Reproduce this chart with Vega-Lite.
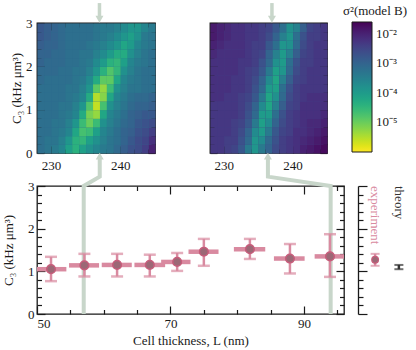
{
"$schema":"https://vega.github.io/schema/vega-lite/v6.json",
"padding":0,
"config":{"font":"Liberation Serif","view":{"stroke":"#1a1a1a","strokeWidth":1.3},
"axis":{"domain":false,"grid":false,"labelFont":"Liberation Serif","labelFontSize":13,"labelColor":"#1a1a1a","tickColor":"#1a1a1a","tickWidth":1.2,"titleFont":"Liberation Serif","titleFontSize":13,"titleFontWeight":"normal","titleColor":"#1a1a1a","minExtent":0}},
"datasets":{
"A":[
{"d":228.5,"c":0.1,"v":-3.2},{"d":228.5,"c":0.3,"v":-3.2},{"d":228.5,"c":0.5,"v":-3.2},{"d":228.5,"c":0.7,"v":-3.2},{"d":228.5,"c":0.9,"v":-3.2},{"d":228.5,"c":1.1,"v":-3.2},{"d":228.5,"c":1.3,"v":-3.2},{"d":228.5,"c":1.5,"v":-3.2},{"d":228.5,"c":1.7,"v":-3.1},{"d":228.5,"c":1.9,"v":-3.1},{"d":228.5,"c":2.1,"v":-3.0},{"d":228.5,"c":2.3,"v":-3.0},{"d":228.5,"c":2.5,"v":-2.9},{"d":228.5,"c":2.7,"v":-2.8},{"d":228.5,"c":2.9,"v":-2.8},
{"d":229.5,"c":0.1,"v":-3.3},{"d":229.5,"c":0.3,"v":-3.3},{"d":229.5,"c":0.5,"v":-3.2},{"d":229.5,"c":0.7,"v":-3.2},{"d":229.5,"c":0.9,"v":-3.2},{"d":229.5,"c":1.1,"v":-3.2},{"d":229.5,"c":1.3,"v":-3.2},{"d":229.5,"c":1.5,"v":-3.2},{"d":229.5,"c":1.7,"v":-3.2},{"d":229.5,"c":1.9,"v":-3.1},{"d":229.5,"c":2.1,"v":-3.1},{"d":229.5,"c":2.3,"v":-3.0},{"d":229.5,"c":2.5,"v":-3.0},{"d":229.5,"c":2.7,"v":-2.9},{"d":229.5,"c":2.9,"v":-2.9},
{"d":230.5,"c":0.1,"v":-3.4},{"d":230.5,"c":0.3,"v":-3.3},{"d":230.5,"c":0.5,"v":-3.3},{"d":230.5,"c":0.7,"v":-3.3},{"d":230.5,"c":0.9,"v":-3.2},{"d":230.5,"c":1.1,"v":-3.2},{"d":230.5,"c":1.3,"v":-3.2},{"d":230.5,"c":1.5,"v":-3.2},{"d":230.5,"c":1.7,"v":-3.2},{"d":230.5,"c":1.9,"v":-3.1},{"d":230.5,"c":2.1,"v":-3.1},{"d":230.5,"c":2.3,"v":-3.1},{"d":230.5,"c":2.5,"v":-3.0},{"d":230.5,"c":2.7,"v":-3.0},{"d":230.5,"c":2.9,"v":-3.0},
{"d":231.5,"c":0.1,"v":-3.6},{"d":231.5,"c":0.3,"v":-3.5},{"d":231.5,"c":0.5,"v":-3.4},{"d":231.5,"c":0.7,"v":-3.3},{"d":231.5,"c":0.9,"v":-3.3},{"d":231.5,"c":1.1,"v":-3.3},{"d":231.5,"c":1.3,"v":-3.2},{"d":231.5,"c":1.5,"v":-3.2},{"d":231.5,"c":1.7,"v":-3.2},{"d":231.5,"c":1.9,"v":-3.2},{"d":231.5,"c":2.1,"v":-3.1},{"d":231.5,"c":2.3,"v":-3.1},{"d":231.5,"c":2.5,"v":-3.1},{"d":231.5,"c":2.7,"v":-3.1},{"d":231.5,"c":2.9,"v":-3.1},
{"d":232.5,"c":0.1,"v":-4.1},{"d":232.5,"c":0.3,"v":-3.9},{"d":232.5,"c":0.5,"v":-3.6},{"d":232.5,"c":0.7,"v":-3.5},{"d":232.5,"c":0.9,"v":-3.4},{"d":232.5,"c":1.1,"v":-3.3},{"d":232.5,"c":1.3,"v":-3.3},{"d":232.5,"c":1.5,"v":-3.3},{"d":232.5,"c":1.7,"v":-3.2},{"d":232.5,"c":1.9,"v":-3.2},{"d":232.5,"c":2.1,"v":-3.2},{"d":232.5,"c":2.3,"v":-3.2},{"d":232.5,"c":2.5,"v":-3.2},{"d":232.5,"c":2.7,"v":-3.2},{"d":232.5,"c":2.9,"v":-3.2},
{"d":233.5,"c":0.1,"v":-4.4},{"d":233.5,"c":0.3,"v":-4.4},{"d":233.5,"c":0.5,"v":-4.2},{"d":233.5,"c":0.7,"v":-3.9},{"d":233.5,"c":0.9,"v":-3.6},{"d":233.5,"c":1.1,"v":-3.5},{"d":233.5,"c":1.3,"v":-3.4},{"d":233.5,"c":1.5,"v":-3.3},{"d":233.5,"c":1.7,"v":-3.3},{"d":233.5,"c":1.9,"v":-3.3},{"d":233.5,"c":2.1,"v":-3.2},{"d":233.5,"c":2.3,"v":-3.2},{"d":233.5,"c":2.5,"v":-3.2},{"d":233.5,"c":2.7,"v":-3.2},{"d":233.5,"c":2.9,"v":-3.2},
{"d":234.5,"c":0.1,"v":-4.1},{"d":234.5,"c":0.3,"v":-4.5},{"d":234.5,"c":0.5,"v":-4.7},{"d":234.5,"c":0.7,"v":-4.6},{"d":234.5,"c":0.9,"v":-4.3},{"d":234.5,"c":1.1,"v":-3.9},{"d":234.5,"c":1.3,"v":-3.6},{"d":234.5,"c":1.5,"v":-3.5},{"d":234.5,"c":1.7,"v":-3.4},{"d":234.5,"c":1.9,"v":-3.3},{"d":234.5,"c":2.1,"v":-3.3},{"d":234.5,"c":2.3,"v":-3.3},{"d":234.5,"c":2.5,"v":-3.2},{"d":234.5,"c":2.7,"v":-3.2},{"d":234.5,"c":2.9,"v":-3.2},
{"d":235.5,"c":0.1,"v":-3.8},{"d":235.5,"c":0.3,"v":-4.1},{"d":235.5,"c":0.5,"v":-4.6},{"d":235.5,"c":0.7,"v":-5.0},{"d":235.5,"c":0.9,"v":-5.1},{"d":235.5,"c":1.1,"v":-4.8},{"d":235.5,"c":1.3,"v":-4.3},{"d":235.5,"c":1.5,"v":-3.9},{"d":235.5,"c":1.7,"v":-3.7},{"d":235.5,"c":1.9,"v":-3.5},{"d":235.5,"c":2.1,"v":-3.4},{"d":235.5,"c":2.3,"v":-3.3},{"d":235.5,"c":2.5,"v":-3.3},{"d":235.5,"c":2.7,"v":-3.2},{"d":235.5,"c":2.9,"v":-3.2},
{"d":236.5,"c":0.1,"v":-3.6},{"d":236.5,"c":0.3,"v":-3.8},{"d":236.5,"c":0.5,"v":-4.1},{"d":236.5,"c":0.7,"v":-4.6},{"d":236.5,"c":0.9,"v":-5.3},{"d":236.5,"c":1.1,"v":-5.6},{"d":236.5,"c":1.3,"v":-5.5},{"d":236.5,"c":1.5,"v":-4.9},{"d":236.5,"c":1.7,"v":-4.3},{"d":236.5,"c":1.9,"v":-3.9},{"d":236.5,"c":2.1,"v":-3.7},{"d":236.5,"c":2.3,"v":-3.5},{"d":236.5,"c":2.5,"v":-3.4},{"d":236.5,"c":2.7,"v":-3.3},{"d":236.5,"c":2.9,"v":-3.3},
{"d":237.5,"c":0.1,"v":-3.4},{"d":237.5,"c":0.3,"v":-3.5},{"d":237.5,"c":0.5,"v":-3.6},{"d":237.5,"c":0.7,"v":-3.8},{"d":237.5,"c":0.9,"v":-4.2},{"d":237.5,"c":1.1,"v":-4.7},{"d":237.5,"c":1.3,"v":-5.2},{"d":237.5,"c":1.5,"v":-5.3},{"d":237.5,"c":1.7,"v":-4.9},{"d":237.5,"c":1.9,"v":-4.4},{"d":237.5,"c":2.1,"v":-4.0},{"d":237.5,"c":2.3,"v":-3.7},{"d":237.5,"c":2.5,"v":-3.5},{"d":237.5,"c":2.7,"v":-3.4},{"d":237.5,"c":2.9,"v":-3.4},
{"d":238.5,"c":0.1,"v":-3.3},{"d":238.5,"c":0.3,"v":-3.3},{"d":238.5,"c":0.5,"v":-3.4},{"d":238.5,"c":0.7,"v":-3.5},{"d":238.5,"c":0.9,"v":-3.6},{"d":238.5,"c":1.1,"v":-3.8},{"d":238.5,"c":1.3,"v":-4.2},{"d":238.5,"c":1.5,"v":-4.6},{"d":238.5,"c":1.7,"v":-4.9},{"d":238.5,"c":1.9,"v":-4.8},{"d":238.5,"c":2.1,"v":-4.4},{"d":238.5,"c":2.3,"v":-4.0},{"d":238.5,"c":2.5,"v":-3.7},{"d":238.5,"c":2.7,"v":-3.5},{"d":238.5,"c":2.9,"v":-3.4},
{"d":239.5,"c":0.1,"v":-3.1},{"d":239.5,"c":0.3,"v":-3.2},{"d":239.5,"c":0.5,"v":-3.2},{"d":239.5,"c":0.7,"v":-3.3},{"d":239.5,"c":0.9,"v":-3.4},{"d":239.5,"c":1.1,"v":-3.5},{"d":239.5,"c":1.3,"v":-3.6},{"d":239.5,"c":1.5,"v":-3.8},{"d":239.5,"c":1.7,"v":-4.2},{"d":239.5,"c":1.9,"v":-4.5},{"d":239.5,"c":2.1,"v":-4.5},{"d":239.5,"c":2.3,"v":-4.3},{"d":239.5,"c":2.5,"v":-3.9},{"d":239.5,"c":2.7,"v":-3.7},{"d":239.5,"c":2.9,"v":-3.5},
{"d":240.5,"c":0.1,"v":-2.9},{"d":240.5,"c":0.3,"v":-3.0},{"d":240.5,"c":0.5,"v":-3.0},{"d":240.5,"c":0.7,"v":-3.1},{"d":240.5,"c":0.9,"v":-3.2},{"d":240.5,"c":1.1,"v":-3.3},{"d":240.5,"c":1.3,"v":-3.4},{"d":240.5,"c":1.5,"v":-3.5},{"d":240.5,"c":1.7,"v":-3.6},{"d":240.5,"c":1.9,"v":-3.8},{"d":240.5,"c":2.1,"v":-4.1},{"d":240.5,"c":2.3,"v":-4.3},{"d":240.5,"c":2.5,"v":-4.2},{"d":240.5,"c":2.7,"v":-3.9},{"d":240.5,"c":2.9,"v":-3.7},
{"d":241.5,"c":0.1,"v":-2.7},{"d":241.5,"c":0.3,"v":-2.8},{"d":241.5,"c":0.5,"v":-2.9},{"d":241.5,"c":0.7,"v":-3.0},{"d":241.5,"c":0.9,"v":-3.0},{"d":241.5,"c":1.1,"v":-3.1},{"d":241.5,"c":1.3,"v":-3.2},{"d":241.5,"c":1.5,"v":-3.3},{"d":241.5,"c":1.7,"v":-3.4},{"d":241.5,"c":1.9,"v":-3.5},{"d":241.5,"c":2.1,"v":-3.6},{"d":241.5,"c":2.3,"v":-3.8},{"d":241.5,"c":2.5,"v":-4.0},{"d":241.5,"c":2.7,"v":-4.1},{"d":241.5,"c":2.9,"v":-3.9},
{"d":242.5,"c":0.1,"v":-2.6},{"d":242.5,"c":0.3,"v":-2.6},{"d":242.5,"c":0.5,"v":-2.7},{"d":242.5,"c":0.7,"v":-2.8},{"d":242.5,"c":0.9,"v":-2.9},{"d":242.5,"c":1.1,"v":-3.0},{"d":242.5,"c":1.3,"v":-3.1},{"d":242.5,"c":1.5,"v":-3.3},{"d":242.5,"c":1.7,"v":-3.3},{"d":242.5,"c":1.9,"v":-3.3},{"d":242.5,"c":2.1,"v":-3.4},{"d":242.5,"c":2.3,"v":-3.5},{"d":242.5,"c":2.5,"v":-3.6},{"d":242.5,"c":2.7,"v":-3.8},{"d":242.5,"c":2.9,"v":-3.9},
{"d":243.5,"c":0.1,"v":-2.4},{"d":243.5,"c":0.3,"v":-2.5},{"d":243.5,"c":0.5,"v":-2.6},{"d":243.5,"c":0.7,"v":-2.7},{"d":243.5,"c":0.9,"v":-2.8},{"d":243.5,"c":1.1,"v":-3.0},{"d":243.5,"c":1.3,"v":-3.1},{"d":243.5,"c":1.5,"v":-3.2},{"d":243.5,"c":1.7,"v":-3.2},{"d":243.5,"c":1.9,"v":-3.2},{"d":243.5,"c":2.1,"v":-3.3},{"d":243.5,"c":2.3,"v":-3.3},{"d":243.5,"c":2.5,"v":-3.4},{"d":243.5,"c":2.7,"v":-3.4},{"d":243.5,"c":2.9,"v":-3.6},
{"d":244.5,"c":0.1,"v":-2.0},{"d":244.5,"c":0.3,"v":-2.2},{"d":244.5,"c":0.5,"v":-2.4},{"d":244.5,"c":0.7,"v":-2.6},{"d":244.5,"c":0.9,"v":-2.8},{"d":244.5,"c":1.1,"v":-2.9},{"d":244.5,"c":1.3,"v":-3.0},{"d":244.5,"c":1.5,"v":-3.2},{"d":244.5,"c":1.7,"v":-3.2},{"d":244.5,"c":1.9,"v":-3.2},{"d":244.5,"c":2.1,"v":-3.2},{"d":244.5,"c":2.3,"v":-3.2},{"d":244.5,"c":2.5,"v":-3.3},{"d":244.5,"c":2.7,"v":-3.3},{"d":244.5,"c":2.9,"v":-3.4}
],
"B":[
{"d":228.5,"c":0.1,"v":-2.3},{"d":228.5,"c":0.3,"v":-2.3},{"d":228.5,"c":0.5,"v":-2.3},{"d":228.5,"c":0.7,"v":-2.3},{"d":228.5,"c":0.9,"v":-2.3},{"d":228.5,"c":1.1,"v":-2.3},{"d":228.5,"c":1.3,"v":-2.2},{"d":228.5,"c":1.5,"v":-2.2},{"d":228.5,"c":1.7,"v":-2.2},{"d":228.5,"c":1.9,"v":-2.2},{"d":228.5,"c":2.1,"v":-2.2},{"d":228.5,"c":2.3,"v":-2.1},{"d":228.5,"c":2.5,"v":-2.0},{"d":228.5,"c":2.7,"v":-1.9},{"d":228.5,"c":2.9,"v":-1.9},
{"d":229.5,"c":0.1,"v":-2.3},{"d":229.5,"c":0.3,"v":-2.3},{"d":229.5,"c":0.5,"v":-2.3},{"d":229.5,"c":0.7,"v":-2.3},{"d":229.5,"c":0.9,"v":-2.3},{"d":229.5,"c":1.1,"v":-2.3},{"d":229.5,"c":1.3,"v":-2.2},{"d":229.5,"c":1.5,"v":-2.2},{"d":229.5,"c":1.7,"v":-2.2},{"d":229.5,"c":1.9,"v":-2.2},{"d":229.5,"c":2.1,"v":-2.2},{"d":229.5,"c":2.3,"v":-2.2},{"d":229.5,"c":2.5,"v":-2.1},{"d":229.5,"c":2.7,"v":-2.0},{"d":229.5,"c":2.9,"v":-2.0},
{"d":230.5,"c":0.1,"v":-2.4},{"d":230.5,"c":0.3,"v":-2.4},{"d":230.5,"c":0.5,"v":-2.3},{"d":230.5,"c":0.7,"v":-2.3},{"d":230.5,"c":0.9,"v":-2.3},{"d":230.5,"c":1.1,"v":-2.3},{"d":230.5,"c":1.3,"v":-2.3},{"d":230.5,"c":1.5,"v":-2.2},{"d":230.5,"c":1.7,"v":-2.2},{"d":230.5,"c":1.9,"v":-2.2},{"d":230.5,"c":2.1,"v":-2.2},{"d":230.5,"c":2.3,"v":-2.2},{"d":230.5,"c":2.5,"v":-2.2},{"d":230.5,"c":2.7,"v":-2.1},{"d":230.5,"c":2.9,"v":-2.1},
{"d":231.5,"c":0.1,"v":-2.5},{"d":231.5,"c":0.3,"v":-2.4},{"d":231.5,"c":0.5,"v":-2.4},{"d":231.5,"c":0.7,"v":-2.4},{"d":231.5,"c":0.9,"v":-2.3},{"d":231.5,"c":1.1,"v":-2.3},{"d":231.5,"c":1.3,"v":-2.3},{"d":231.5,"c":1.5,"v":-2.3},{"d":231.5,"c":1.7,"v":-2.3},{"d":231.5,"c":1.9,"v":-2.2},{"d":231.5,"c":2.1,"v":-2.2},{"d":231.5,"c":2.3,"v":-2.2},{"d":231.5,"c":2.5,"v":-2.2},{"d":231.5,"c":2.7,"v":-2.2},{"d":231.5,"c":2.9,"v":-2.2},
{"d":232.5,"c":0.1,"v":-2.8},{"d":232.5,"c":0.3,"v":-2.7},{"d":232.5,"c":0.5,"v":-2.6},{"d":232.5,"c":0.7,"v":-2.5},{"d":232.5,"c":0.9,"v":-2.4},{"d":232.5,"c":1.1,"v":-2.4},{"d":232.5,"c":1.3,"v":-2.4},{"d":232.5,"c":1.5,"v":-2.3},{"d":232.5,"c":1.7,"v":-2.3},{"d":232.5,"c":1.9,"v":-2.3},{"d":232.5,"c":2.1,"v":-2.3},{"d":232.5,"c":2.3,"v":-2.2},{"d":232.5,"c":2.5,"v":-2.2},{"d":232.5,"c":2.7,"v":-2.2},{"d":232.5,"c":2.9,"v":-2.2},
{"d":233.5,"c":0.1,"v":-3.4},{"d":233.5,"c":0.3,"v":-3.1},{"d":233.5,"c":0.5,"v":-3.0},{"d":233.5,"c":0.7,"v":-2.8},{"d":233.5,"c":0.9,"v":-2.7},{"d":233.5,"c":1.1,"v":-2.6},{"d":233.5,"c":1.3,"v":-2.5},{"d":233.5,"c":1.5,"v":-2.4},{"d":233.5,"c":1.7,"v":-2.4},{"d":233.5,"c":1.9,"v":-2.4},{"d":233.5,"c":2.1,"v":-2.3},{"d":233.5,"c":2.3,"v":-2.3},{"d":233.5,"c":2.5,"v":-2.3},{"d":233.5,"c":2.7,"v":-2.3},{"d":233.5,"c":2.9,"v":-2.3},
{"d":234.5,"c":0.1,"v":-3.9},{"d":234.5,"c":0.3,"v":-3.9},{"d":234.5,"c":0.5,"v":-3.7},{"d":234.5,"c":0.7,"v":-3.4},{"d":234.5,"c":0.9,"v":-3.1},{"d":234.5,"c":1.1,"v":-3.0},{"d":234.5,"c":1.3,"v":-2.8},{"d":234.5,"c":1.5,"v":-2.7},{"d":234.5,"c":1.7,"v":-2.6},{"d":234.5,"c":1.9,"v":-2.5},{"d":234.5,"c":2.1,"v":-2.4},{"d":234.5,"c":2.3,"v":-2.4},{"d":234.5,"c":2.5,"v":-2.4},{"d":234.5,"c":2.7,"v":-2.3},{"d":234.5,"c":2.9,"v":-2.3},
{"d":235.5,"c":0.1,"v":-3.4},{"d":235.5,"c":0.3,"v":-3.7},{"d":235.5,"c":0.5,"v":-4.0},{"d":235.5,"c":0.7,"v":-4.1},{"d":235.5,"c":0.9,"v":-4.0},{"d":235.5,"c":1.1,"v":-3.7},{"d":235.5,"c":1.3,"v":-3.4},{"d":235.5,"c":1.5,"v":-3.1},{"d":235.5,"c":1.7,"v":-3.0},{"d":235.5,"c":1.9,"v":-2.8},{"d":235.5,"c":2.1,"v":-2.7},{"d":235.5,"c":2.3,"v":-2.5},{"d":235.5,"c":2.5,"v":-2.4},{"d":235.5,"c":2.7,"v":-2.4},{"d":235.5,"c":2.9,"v":-2.4},
{"d":236.5,"c":0.1,"v":-3.0},{"d":236.5,"c":0.3,"v":-3.1},{"d":236.5,"c":0.5,"v":-3.4},{"d":236.5,"c":0.7,"v":-3.7},{"d":236.5,"c":0.9,"v":-4.0},{"d":236.5,"c":1.1,"v":-4.2},{"d":236.5,"c":1.3,"v":-4.2},{"d":236.5,"c":1.5,"v":-4.0},{"d":236.5,"c":1.7,"v":-3.7},{"d":236.5,"c":1.9,"v":-3.4},{"d":236.5,"c":2.1,"v":-3.1},{"d":236.5,"c":2.3,"v":-3.0},{"d":236.5,"c":2.5,"v":-2.8},{"d":236.5,"c":2.7,"v":-2.6},{"d":236.5,"c":2.9,"v":-2.5},
{"d":237.5,"c":0.1,"v":-2.6},{"d":237.5,"c":0.3,"v":-2.7},{"d":237.5,"c":0.5,"v":-2.8},{"d":237.5,"c":0.7,"v":-3.0},{"d":237.5,"c":0.9,"v":-3.2},{"d":237.5,"c":1.1,"v":-3.5},{"d":237.5,"c":1.3,"v":-3.8},{"d":237.5,"c":1.5,"v":-4.1},{"d":237.5,"c":1.7,"v":-4.2},{"d":237.5,"c":1.9,"v":-4.1},{"d":237.5,"c":2.1,"v":-3.8},{"d":237.5,"c":2.3,"v":-3.5},{"d":237.5,"c":2.5,"v":-3.2},{"d":237.5,"c":2.7,"v":-3.0},{"d":237.5,"c":2.9,"v":-2.8},
{"d":238.5,"c":0.1,"v":-2.4},{"d":238.5,"c":0.3,"v":-2.4},{"d":238.5,"c":0.5,"v":-2.5},{"d":238.5,"c":0.7,"v":-2.6},{"d":238.5,"c":0.9,"v":-2.7},{"d":238.5,"c":1.1,"v":-2.9},{"d":238.5,"c":1.3,"v":-3.1},{"d":238.5,"c":1.5,"v":-3.2},{"d":238.5,"c":1.7,"v":-3.5},{"d":238.5,"c":1.9,"v":-3.9},{"d":238.5,"c":2.1,"v":-4.0},{"d":238.5,"c":2.3,"v":-4.0},{"d":238.5,"c":2.5,"v":-3.9},{"d":238.5,"c":2.7,"v":-3.5},{"d":238.5,"c":2.9,"v":-3.2},
{"d":239.5,"c":0.1,"v":-2.3},{"d":239.5,"c":0.3,"v":-2.3},{"d":239.5,"c":0.5,"v":-2.4},{"d":239.5,"c":0.7,"v":-2.4},{"d":239.5,"c":0.9,"v":-2.4},{"d":239.5,"c":1.1,"v":-2.5},{"d":239.5,"c":1.3,"v":-2.6},{"d":239.5,"c":1.5,"v":-2.7},{"d":239.5,"c":1.7,"v":-2.9},{"d":239.5,"c":1.9,"v":-3.1},{"d":239.5,"c":2.1,"v":-3.2},{"d":239.5,"c":2.3,"v":-3.5},{"d":239.5,"c":2.5,"v":-3.8},{"d":239.5,"c":2.7,"v":-3.9},{"d":239.5,"c":2.9,"v":-3.8},
{"d":240.5,"c":0.1,"v":-2.2},{"d":240.5,"c":0.3,"v":-2.2},{"d":240.5,"c":0.5,"v":-2.2},{"d":240.5,"c":0.7,"v":-2.3},{"d":240.5,"c":0.9,"v":-2.3},{"d":240.5,"c":1.1,"v":-2.4},{"d":240.5,"c":1.3,"v":-2.4},{"d":240.5,"c":1.5,"v":-2.4},{"d":240.5,"c":1.7,"v":-2.5},{"d":240.5,"c":1.9,"v":-2.6},{"d":240.5,"c":2.1,"v":-2.7},{"d":240.5,"c":2.3,"v":-2.9},{"d":240.5,"c":2.5,"v":-3.1},{"d":240.5,"c":2.7,"v":-3.2},{"d":240.5,"c":2.9,"v":-3.5},
{"d":241.5,"c":0.1,"v":-2.0},{"d":241.5,"c":0.3,"v":-2.1},{"d":241.5,"c":0.5,"v":-2.2},{"d":241.5,"c":0.7,"v":-2.2},{"d":241.5,"c":0.9,"v":-2.2},{"d":241.5,"c":1.1,"v":-2.2},{"d":241.5,"c":1.3,"v":-2.3},{"d":241.5,"c":1.5,"v":-2.3},{"d":241.5,"c":1.7,"v":-2.4},{"d":241.5,"c":1.9,"v":-2.4},{"d":241.5,"c":2.1,"v":-2.4},{"d":241.5,"c":2.3,"v":-2.5},{"d":241.5,"c":2.5,"v":-2.6},{"d":241.5,"c":2.7,"v":-2.7},{"d":241.5,"c":2.9,"v":-2.9},
{"d":242.5,"c":0.1,"v":-1.9},{"d":242.5,"c":0.3,"v":-2.0},{"d":242.5,"c":0.5,"v":-2.1},{"d":242.5,"c":0.7,"v":-2.1},{"d":242.5,"c":0.9,"v":-2.2},{"d":242.5,"c":1.1,"v":-2.2},{"d":242.5,"c":1.3,"v":-2.2},{"d":242.5,"c":1.5,"v":-2.3},{"d":242.5,"c":1.7,"v":-2.3},{"d":242.5,"c":1.9,"v":-2.3},{"d":242.5,"c":2.1,"v":-2.4},{"d":242.5,"c":2.3,"v":-2.4},{"d":242.5,"c":2.5,"v":-2.4},{"d":242.5,"c":2.7,"v":-2.4},{"d":242.5,"c":2.9,"v":-2.5},
{"d":243.5,"c":0.1,"v":-1.8},{"d":243.5,"c":0.3,"v":-1.9},{"d":243.5,"c":0.5,"v":-2.0},{"d":243.5,"c":0.7,"v":-2.1},{"d":243.5,"c":0.9,"v":-2.2},{"d":243.5,"c":1.1,"v":-2.2},{"d":243.5,"c":1.3,"v":-2.2},{"d":243.5,"c":1.5,"v":-2.3},{"d":243.5,"c":1.7,"v":-2.3},{"d":243.5,"c":1.9,"v":-2.3},{"d":243.5,"c":2.1,"v":-2.3},{"d":243.5,"c":2.3,"v":-2.3},{"d":243.5,"c":2.5,"v":-2.3},{"d":243.5,"c":2.7,"v":-2.4},{"d":243.5,"c":2.9,"v":-2.4},
{"d":244.5,"c":0.1,"v":-1.7},{"d":244.5,"c":0.3,"v":-1.8},{"d":244.5,"c":0.5,"v":-1.9},{"d":244.5,"c":0.7,"v":-2.0},{"d":244.5,"c":0.9,"v":-2.1},{"d":244.5,"c":1.1,"v":-2.2},{"d":244.5,"c":1.3,"v":-2.2},{"d":244.5,"c":1.5,"v":-2.3},{"d":244.5,"c":1.7,"v":-2.3},{"d":244.5,"c":1.9,"v":-2.3},{"d":244.5,"c":2.1,"v":-2.3},{"d":244.5,"c":2.3,"v":-2.3},{"d":244.5,"c":2.5,"v":-2.3},{"d":244.5,"c":2.7,"v":-2.3},{"d":244.5,"c":2.9,"v":-2.3}
],
"arrT":[{"d":237,"c":3.46,"c2":3.15,"h":3.085}],
"pts":[
{"L":52.1,"C":1.05,"Cl":0.77,"Ch":1.34,"Ll":50.0,"Lh":54.4},
{"L":57.1,"C":1.14,"Cl":0.88,"Ch":1.41,"Ll":54.8,"Lh":59.3},
{"L":62.0,"C":1.15,"Cl":0.88,"Ch":1.41,"Ll":59.7,"Lh":64.2},
{"L":66.9,"C":1.15,"Cl":0.88,"Ch":1.39,"Ll":64.6,"Lh":69.2},
{"L":71.0,"C":1.22,"Cl":1.01,"Ch":1.43,"Ll":68.6,"Lh":73.0},
{"L":75.0,"C":1.46,"Cl":1.13,"Ch":1.76,"Ll":72.7,"Lh":77.2},
{"L":81.9,"C":1.52,"Cl":1.29,"Ch":1.76,"Ll":79.5,"Lh":84.2},
{"L":87.9,"C":1.30,"Cl":0.95,"Ch":1.64,"Ll":85.5,"Lh":90.1},
{"L":93.9,"C":1.35,"Cl":0.87,"Ch":1.87,"Ll":91.6,"Lh":96.0}
],
"conn":[
{"g":1,"o":1,"L":59.4,"C":3.64},{"g":1,"o":2,"L":59.4,"C":3.22},{"g":1,"o":3,"L":57,"C":3.0},{"g":1,"o":4,"L":57,"C":0},
{"g":2,"o":1,"L":84.6,"C":3.64},{"g":2,"o":2,"L":84.6,"C":3.22},{"g":2,"o":3,"L":94,"C":3.0},{"g":2,"o":4,"L":94,"C":0}
],
"heads":[{"L":59.4,"C":3.7},{"L":84.6,"C":3.7}],
"side":[{"k":"experiment","C":1.27,"Cl":1.13,"Ch":1.41},{"k":"theory","C":1.10,"Cl":1.05,"Ch":1.15}],
"sideT":[{"k":"experiment","C":3},{"k":"theory","C":3}]
},
"columns":1,
"spacing":-23,
"align":"none",
"concat":[
{"hconcat":[
{"width":118,"height":130,"view":{"fill":"#2f6b8e"},
"layer":[
{"data":{"name":"A"},"mark":{"type":"rect","binSpacing":0},
"encoding":{
"x":{"field":"d","type":"quantitative","bin":{"step":1,"extent":[228,245]},"scale":{"domain":[228,245]},"axis":{"orient":"bottom","values":[230,240],"format":"d","ticks":false,"labelPadding":6,"title":null}},
"y":{"field":"c","type":"quantitative","bin":{"step":0.2,"extent":[0,3]},"scale":{"domain":[0,3]},"axis":{"orient":"left","values":[0,1,2,3],"format":"d","ticks":false,"labelPadding":5,"title":"C₃ (kHz μm³)","titleX":-14,"minExtent":36,"maxExtent":36}},
"color":{"field":"v","type":"quantitative","scale":{"scheme":"viridis","reverse":true,"domain":[-6,-1.6]},"legend":null}
}},
{"data":{"name":"arrT"},"mark":{"type":"rule","color":"#c8d6ca","strokeWidth":3.5,"clip":false},
"encoding":{
"x":{"field":"d","type":"quantitative","scale":{"domain":[228,245]},"axis":{"orient":"bottom","values":[230,240],"tickSize":-7,"labels":false,"title":null}},
"y":{"field":"c","type":"quantitative","scale":{"domain":[0,3]},"axis":{"orient":"left","values":[0,1,2,3],"tickSize":-7,"labels":false,"title":null}},
"y2":{"field":"c2"}}},
{"data":{"name":"arrT"},"mark":{"type":"point","shape":"triangle-down","filled":true,"color":"#c8d6ca","size":64,"opacity":1,"clip":false},
"encoding":{
"x":{"field":"d","type":"quantitative","scale":{"domain":[228,245]},"axis":{"orient":"bottom","values":[232,234,236,238,242,244],"tickSize":-4,"labels":false,"title":null}},
"y":{"field":"h","type":"quantitative","scale":{"domain":[0,3]},"axis":{"orient":"left","values":[0.2,0.4,0.6,0.8,1.2,1.4,1.6,1.8,2.2,2.4,2.6,2.8],"tickSize":-4,"labels":false,"title":null}}}},
{"data":{"name":"arrT"},"mark":{"type":"point","opacity":0,"clip":false},
"encoding":{
"x":{"field":"d","type":"quantitative","scale":{"domain":[228,245]},"axis":{"orient":"top","values":[230,240],"tickSize":-7,"labels":false,"title":null}},
"y":{"field":"h","type":"quantitative","scale":{"domain":[0,3]},"axis":{"orient":"right","values":[0,1,2,3],"tickSize":-7,"labels":false,"title":null}}}},
{"data":{"name":"arrT"},"mark":{"type":"point","opacity":0,"clip":false},
"encoding":{
"x":{"field":"d","type":"quantitative","scale":{"domain":[228,245]},"axis":{"orient":"top","values":[232,234,236,238,242,244],"tickSize":-4,"labels":false,"title":null}},
"y":{"field":"h","type":"quantitative","scale":{"domain":[0,3]},"axis":{"orient":"right","values":[0.2,0.4,0.6,0.8,1.2,1.4,1.6,1.8,2.2,2.4,2.6,2.8],"tickSize":-4,"labels":false,"title":null}}}}
],
"resolve":{"axis":{"x":"independent","y":"independent"}}},
{"width":117,"height":130,"view":{"fill":"#433e85"},
"layer":[
{"data":{"name":"B"},"mark":{"type":"rect","binSpacing":0},
"encoding":{
"x":{"field":"d","type":"quantitative","bin":{"step":1,"extent":[228,245]},"scale":{"domain":[228,245]},"axis":{"orient":"bottom","values":[230,240],"format":"d","ticks":false,"labelPadding":6,"title":null}},
"y":{"field":"c","type":"quantitative","bin":{"step":0.2,"extent":[0,3]},"scale":{"domain":[0,3]},"axis":null},
"color":{"field":"v","type":"quantitative","scale":{"scheme":"viridis","reverse":true,"domain":[-6,-1.6]},
"legend":{"type":"gradient","orient":"none","legendX":133,"legendY":-18,"direction":"vertical","gradientLength":130,"gradientThickness":20,"title":"σ²(model B)","titleFont":"Liberation Serif","titleFontSize":13,"titleFontWeight":"normal","titleColor":"#1a1a1a","titleAnchor":"middle","titlePadding":4,"values":[-2,-3,-4,-5],"labelExpr":"datum.value == -2 ? '10⁻²' : datum.value == -3 ? '10⁻³' : datum.value == -4 ? '10⁻⁴' : '10⁻⁵'","labelFont":"Liberation Serif","labelFontSize":13,"labelColor":"#1a1a1a","labelOffset":4,"gradientStrokeColor":"#1a1a1a","gradientStrokeWidth":1}}
}},
{"data":{"name":"arrT"},"mark":{"type":"rule","color":"#c8d6ca","strokeWidth":3.5,"clip":false},
"encoding":{
"x":{"field":"d","type":"quantitative","scale":{"domain":[228,245]},"axis":{"orient":"bottom","values":[230,240],"tickSize":-7,"labels":false,"title":null}},
"y":{"field":"c","type":"quantitative","scale":{"domain":[0,3]},"axis":{"orient":"left","values":[0,1,2,3],"tickSize":-7,"labels":false,"title":null}},
"y2":{"field":"c2"}}},
{"data":{"name":"arrT"},"mark":{"type":"point","shape":"triangle-down","filled":true,"color":"#c8d6ca","size":64,"opacity":1,"clip":false},
"encoding":{
"x":{"field":"d","type":"quantitative","scale":{"domain":[228,245]},"axis":{"orient":"bottom","values":[232,234,236,238,242,244],"tickSize":-4,"labels":false,"title":null}},
"y":{"field":"h","type":"quantitative","scale":{"domain":[0,3]},"axis":{"orient":"left","values":[0.2,0.4,0.6,0.8,1.2,1.4,1.6,1.8,2.2,2.4,2.6,2.8],"tickSize":-4,"labels":false,"title":null}}}},
{"data":{"name":"arrT"},"mark":{"type":"point","opacity":0,"clip":false},
"encoding":{
"x":{"field":"d","type":"quantitative","scale":{"domain":[228,245]},"axis":{"orient":"top","values":[230,240],"tickSize":-7,"labels":false,"title":null}},
"y":{"field":"h","type":"quantitative","scale":{"domain":[0,3]},"axis":{"orient":"right","values":[0,1,2,3],"tickSize":-7,"labels":false,"title":null}}}},
{"data":{"name":"arrT"},"mark":{"type":"point","opacity":0,"clip":false},
"encoding":{
"x":{"field":"d","type":"quantitative","scale":{"domain":[228,245]},"axis":{"orient":"top","values":[232,234,236,238,242,244],"tickSize":-4,"labels":false,"title":null}},
"y":{"field":"h","type":"quantitative","scale":{"domain":[0,3]},"axis":{"orient":"right","values":[0.2,0.4,0.6,0.8,1.2,1.4,1.6,1.8,2.2,2.4,2.6,2.8],"tickSize":-4,"labels":false,"title":null}}}}
],
"resolve":{"axis":{"x":"independent","y":"independent"}}}
],"spacing":51,"resolve":{"scale":{"color":"independent"},"legend":{"color":"independent"}}},
{"hconcat":[
{"width":307,"height":128,
"layer":[
{"data":{"name":"conn"},"mark":{"type":"line","color":"#c8d6ca","strokeWidth":4,"clip":false,"strokeCap":"butt"},
"encoding":{
"x":{"field":"L","type":"quantitative","scale":{"domain":[50,96]},"axis":{"orient":"bottom","values":[50,70,90],"ticks":false,"labelPadding":3,"title":"Cell thickness, L (nm)","titlePadding":4}},
"y":{"field":"C","type":"quantitative","scale":{"domain":[0,3]},"axis":{"orient":"left","values":[0,1,2,3],"ticks":false,"labelPadding":3,"title":"C₃ (kHz μm³)","titleX":-22,"minExtent":36,"maxExtent":36}},
"detail":{"field":"g"},"order":{"field":"o","type":"quantitative"}}},
{"data":{"name":"heads"},"mark":{"type":"point","shape":"triangle-up","filled":true,"color":"#c8d6ca","size":64,"opacity":1,"clip":false},
"encoding":{
"x":{"field":"L","type":"quantitative","scale":{"domain":[50,96]},"axis":{"orient":"bottom","values":[50,70,90],"tickSize":-8,"labels":false,"title":null}},
"y":{"field":"C","type":"quantitative","scale":{"domain":[0,3]},"axis":{"orient":"left","values":[0,1,2,3],"tickSize":-8,"labels":false,"title":null}}}},
{"data":{"name":"pts"},"mark":{"type":"rule","color":"#d98aa0","strokeWidth":4.5},
"encoding":{
"x":{"field":"Ll","type":"quantitative","scale":{"domain":[50,96]},"axis":{"orient":"bottom","values":[55,60,65,75,80,85,95],"tickSize":-4.5,"labels":false,"title":null}},
"x2":{"field":"Lh"},
"y":{"field":"C","type":"quantitative","scale":{"domain":[0,3]},"axis":{"orient":"left","values":[0.2,0.4,0.6,0.8,1.2,1.4,1.6,1.8,2.2,2.4,2.6,2.8],"tickSize":-4.5,"labels":false,"title":null}}}},
{"data":{"name":"pts"},"mark":{"type":"rule","color":"#d98aa0","strokeWidth":2.5},
"encoding":{
"x":{"field":"L","type":"quantitative","scale":{"domain":[50,96]},"axis":{"orient":"top","values":[50,70,90],"tickSize":-8,"labels":false,"title":null}},
"y":{"field":"Cl","type":"quantitative","scale":{"domain":[0,3]},"axis":{"orient":"right","values":[0,1,2,3],"tickSize":-8,"labels":false,"title":null}},
"y2":{"field":"Ch"}}},
{"data":{"name":"pts"},"mark":{"type":"tick","orient":"horizontal","color":"#d98aa0","size":12,"thickness":2.5},
"encoding":{
"x":{"field":"L","type":"quantitative","scale":{"domain":[50,96]},"axis":{"orient":"top","values":[55,60,65,75,80,85,95],"tickSize":-4.5,"labels":false,"title":null}},
"y":{"field":"Cl","type":"quantitative","scale":{"domain":[0,3]},"axis":{"orient":"right","values":[0.2,0.4,0.6,0.8,1.2,1.4,1.6,1.8,2.2,2.4,2.6,2.8],"tickSize":-4.5,"labels":false,"title":null}}}},
{"data":{"name":"pts"},"mark":{"type":"tick","orient":"horizontal","color":"#d98aa0","size":12,"thickness":2.5},
"encoding":{
"x":{"field":"L","type":"quantitative","scale":{"domain":[50,96]},"axis":null},
"y":{"field":"Ch","type":"quantitative","scale":{"domain":[0,3]},"axis":null}}},
{"data":{"name":"pts"},"mark":{"type":"point","shape":"circle","filled":true,"fill":"#9c6876","stroke":"#c75d7b","strokeWidth":1.5,"size":75,"opacity":1},
"encoding":{
"x":{"field":"L","type":"quantitative","scale":{"domain":[50,96]},"axis":null},
"y":{"field":"C","type":"quantitative","scale":{"domain":[0,3]},"axis":null}}}
],
"resolve":{"axis":{"x":"independent","y":"independent"}}},
{"width":58,"height":128,"view":{"stroke":null},
"layer":[
{"data":{"name":"side"},"mark":{"type":"rule","strokeWidth":2.5},
"encoding":{
"x":{"field":"k","type":"nominal","scale":{"type":"point","domain":["experiment","theory"],"padding":0.72},"axis":null},
"y":{"field":"Cl","type":"quantitative","scale":{"domain":[0,3]},"axis":{"orient":"left","values":[0,1,2,3],"tickSize":-9,"labels":false,"title":null,"domain":true,"domainColor":"#1a1a1a","domainWidth":1.3}},
"y2":{"field":"Ch"},
"color":{"field":"k","type":"nominal","scale":{"domain":["experiment","theory"],"range":["#d98aa0","#333333"]},"legend":null}}},
{"data":{"name":"side"},"mark":{"type":"tick","orient":"horizontal","size":9,"thickness":2},
"encoding":{
"x":{"field":"k","type":"nominal","scale":{"type":"point","domain":["experiment","theory"],"padding":0.72},"axis":null},
"y":{"field":"Cl","type":"quantitative","scale":{"domain":[0,3]},"axis":{"orient":"left","values":[0.2,0.4,0.6,0.8,1.2,1.4,1.6,1.8,2.2,2.4,2.6,2.8],"tickSize":-5,"labels":false,"title":null}},
"color":{"field":"k","type":"nominal","scale":{"domain":["experiment","theory"],"range":["#d98aa0","#333333"]},"legend":null}}},
{"data":{"name":"side"},"mark":{"type":"tick","orient":"horizontal","size":9,"thickness":2},
"encoding":{
"x":{"field":"k","type":"nominal","scale":{"type":"point","domain":["experiment","theory"],"padding":0.72},"axis":null},
"y":{"field":"Ch","type":"quantitative","scale":{"domain":[0,3]},"axis":null},
"color":{"field":"k","type":"nominal","scale":{"domain":["experiment","theory"],"range":["#d98aa0","#333333"]},"legend":null}}},
{"data":{"name":"side"},"transform":[{"filter":"datum.k == 'experiment'"}],"mark":{"type":"point","shape":"circle","filled":true,"fill":"#9c6876","stroke":"#c75d7b","strokeWidth":1.2,"size":45,"opacity":1},
"encoding":{
"x":{"field":"k","type":"nominal","scale":{"type":"point","domain":["experiment","theory"],"padding":0.72},"axis":null},
"y":{"field":"C","type":"quantitative","scale":{"domain":[0,3]},"axis":null}}},
{"data":{"name":"sideT"},"mark":{"type":"text","angle":90,"align":"left","baseline":"middle","fontSize":13,"font":"Liberation Serif"},
"encoding":{
"x":{"field":"k","type":"nominal","scale":{"type":"point","domain":["experiment","theory"],"padding":0.72},"axis":null},
"y":{"field":"C","type":"quantitative","scale":{"domain":[0,3]},"axis":null},
"text":{"field":"k"},
"color":{"field":"k","type":"nominal","scale":{"domain":["experiment","theory"],"range":["#c75d7b","#1a1a1a"]},"legend":null}}}
],
"resolve":{"axis":{"y":"independent"}}}
],"spacing":14,"bounds":"flush"}
]
}
